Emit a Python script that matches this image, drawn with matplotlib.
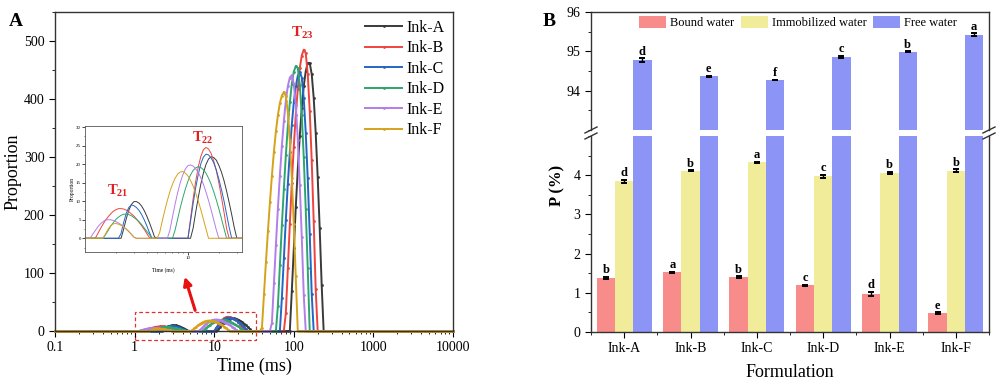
import numpy as np
import matplotlib
matplotlib.use('Agg')
import matplotlib.pyplot as plt
from matplotlib.lines import Line2D
from matplotlib.patches import Rectangle
from matplotlib.ticker import LogLocator, NullFormatter, MultipleLocator, FixedLocator, FixedFormatter

plt.rcParams['font.family'] = ['Liberation Serif', 'DejaVu Serif']
plt.rcParams['mathtext.fontset'] = 'custom'
plt.rcParams['mathtext.rm'] = 'Liberation Serif'
plt.rcParams['mathtext.bf'] = 'Liberation Serif:bold'

# ---------------- Panel A data ----------------
# relaxation-time grid (ms), 201 log-spaced points, 0.025 decade apart
grid_ms = np.logspace(-1, 4, 201)
ink_names = ['Ink-A', 'Ink-B', 'Ink-C', 'Ink-D', 'Ink-E', 'Ink-F']
ink_colors = ['#3a3a3a', '#ee4440', '#2366c4', '#2fa56e', '#b27ee8', '#d6a21c']

ink_a_t21_from, ink_a_t21 = 55, [2.4, 5.2, 7.5, 9.1, 9.9, 9.9, 9.5, 8.7, 7.5, 6.0, 4.3, 2.4, 0.4]
ink_a_t22_from, ink_a_t22 = 82, [2.7, 7.0, 11.0, 14.6, 17.6, 19.9, 21.4, 22.0, 21.8, 21.1, 19.7, 17.9, 15.6, 12.8, 9.7, 6.4, 2.9]
ink_a_t23_from, ink_a_t23 = 119, [69, 143, 214, 279, 336, 384, 422, 448, 462, 462, 443, 402, 342, 266, 178, 80]

ink_b_t21_from, ink_b_t21 = 45, [1.3, 2.6, 3.8, 4.9, 5.8, 6.6, 7.3, 7.7, 8.0, 8.0, 7.9, 7.6, 7.2, 6.6, 6.0, 5.2, 4.3, 3.4, 2.4, 1.3, 0.2]
ink_b_t22_from, ink_b_t22 = 81, [5.4, 10.6, 15.3, 19.2, 22.1, 23.9, 24.5, 24.1, 22.9, 20.9, 18.3, 15.0, 11.2, 7.1, 2.7]
ink_b_t23_from, ink_b_t23 = 116, [31, 109, 184, 255, 318, 373, 418, 453, 475, 485, 479, 443, 380, 294, 189, 72]

ink_c_t21_from, ink_c_t21 = 54, [1.3, 4.2, 6.7, 8.3, 9.0, 8.8, 8.3, 7.5, 6.4, 5.0, 3.4, 1.6]
ink_c_t22_from, ink_c_t22 = 81, [4.5, 9.3, 13.6, 17.2, 20.1, 21.9, 22.7, 22.5, 21.7, 20.4, 18.5, 16.0, 13.2, 10.1, 6.6, 3.0]
ink_c_t23_from, ink_c_t23 = 114, [57, 126, 192, 254, 308, 356, 394, 422, 440, 447, 437, 401, 342, 263, 168, 64]

ink_d_t21_from, ink_d_t21 = 48, [1.0, 2.1, 3.3, 4.2, 5.1, 5.7, 6.2, 6.5, 6.5, 6.4, 6.1, 5.6, 5.1, 4.5, 3.7, 2.8, 1.9, 1.0]
ink_d_t22_from, ink_d_t22 = 75, [2.2, 5.2, 8.2, 10.9, 13.3, 15.4, 17.1, 18.3, 19.0, 19.3, 19.1, 18.5, 17.6, 16.2, 14.6, 12.6, 10.4, 8.0, 5.4, 2.7]
ink_d_t23_from, ink_d_t23 = 112, [43, 114, 182, 245, 303, 353, 394, 426, 447, 457, 453, 425, 373, 300, 210, 108]

ink_e_t21_from, ink_e_t21 = 43, [1.1, 2.1, 3.1, 3.9, 4.5, 4.9, 5.0, 5.0, 4.8, 4.5, 4.1, 3.7, 3.1, 2.5, 1.8, 1.1, 0.3]
ink_e_t22_from, ink_e_t22 = 73, [2.2, 5.8, 9.2, 12.3, 15.0, 17.1, 18.7, 19.6, 19.8, 19.5, 18.8, 17.8, 16.3, 14.6, 12.5, 10.2, 7.7, 5.0, 2.3]
ink_e_t23_from, ink_e_t23 = 109, [14, 82, 148, 211, 268, 319, 362, 397, 422, 437, 441, 426, 389, 330, 252, 162, 62]

ink_f_t21_from, ink_f_t21 = 48, [1.2, 2.5, 3.4, 3.9, 4.0, 3.8, 3.5, 3.1, 2.5, 1.9, 1.1, 0.3]
ink_f_t22_from, ink_f_t22 = 69, [1.5, 4.6, 7.5, 10.2, 12.6, 14.6, 16.2, 17.3, 17.9, 18.0, 17.6, 16.8, 15.6, 14.1, 12.2, 10.1, 7.7, 5.1, 2.5]
ink_f_t23_from, ink_f_t23 = 104, [6, 63, 119, 172, 222, 268, 309, 344, 372, 393, 406, 412, 405, 377, 329, 263, 184, 94]

ink_segments = [
    [(ink_a_t21_from, ink_a_t21), (ink_a_t22_from, ink_a_t22), (ink_a_t23_from, ink_a_t23)],
    [(ink_b_t21_from, ink_b_t21), (ink_b_t22_from, ink_b_t22), (ink_b_t23_from, ink_b_t23)],
    [(ink_c_t21_from, ink_c_t21), (ink_c_t22_from, ink_c_t22), (ink_c_t23_from, ink_c_t23)],
    [(ink_d_t21_from, ink_d_t21), (ink_d_t22_from, ink_d_t22), (ink_d_t23_from, ink_d_t23)],
    [(ink_e_t21_from, ink_e_t21), (ink_e_t22_from, ink_e_t22), (ink_e_t23_from, ink_e_t23)],
    [(ink_f_t21_from, ink_f_t21), (ink_f_t22_from, ink_f_t22), (ink_f_t23_from, ink_f_t23)],
]

def build_curve(segments):
    y = np.zeros(len(grid_ms))
    for start, vals in segments:
        y[start:start + len(vals)] = vals
    return y

curves = [build_curve(s) for s in ink_segments]

# ---------------- Panel B data ----------------
formulations = ['Ink-A', 'Ink-B', 'Ink-C', 'Ink-D', 'Ink-E', 'Ink-F']
bound = [1.38, 1.52, 1.40, 1.19, 0.97, 0.48]
bound_err = [0.02, 0.01, 0.02, 0.02, 0.05, 0.02]
bound_sig = ['b', 'a', 'b', 'c', 'd', 'e']
immob = [3.85, 4.11, 4.33, 3.97, 4.05, 4.11]
immob_err = [0.04, 0.01, 0.01, 0.04, 0.03, 0.04]
immob_sig = ['d', 'b', 'a', 'c', 'b', 'b']
free = [94.78, 94.37, 94.27, 94.85, 94.99, 95.42]
free_err = [0.04, 0.01, 0.01, 0.03, 0.01, 0.04]
free_sig = ['d', 'e', 'f', 'c', 'b', 'a']
series_names = ['Bound water', 'Immobilized water', 'Free water']
series_colors = ['#f78c8a', '#f0ec9a', '#8c95f6']

W, H = 1000, 381
fig = plt.figure(figsize=(W / 100, H / 100), dpi=100)

def fx(px):
    return px / W

def fy(py):
    return 1 - py / H

# ================= Panel A =================
axA = fig.add_axes([fx(55), fy(331), fx(453 - 55), (331 - 12) / H])
for y, c, n in zip(curves, ink_colors, ink_names):
    axA.plot(grid_ms, y, color=c, lw=1.4, marker='o', ms=2.0, mew=0, label=n, clip_on=False)
axA.set_xscale('log')
axA.set_xlim(0.1, 10000)
axA.set_ylim(0, 550)
axA.set_xticks([0.1, 1, 10, 100, 1000, 10000])
axA.set_xticklabels(['0.1', '1', '10', '100', '1000', '10000'])
axA.xaxis.set_minor_locator(LogLocator(base=10, subs=np.arange(2, 10), numticks=20))
axA.xaxis.set_minor_formatter(NullFormatter())
axA.set_yticks([0, 100, 200, 300, 400, 500])
axA.yaxis.set_minor_locator(MultipleLocator(50))
axA.tick_params(which='both', direction='out', labelsize=10, top=False, right=False)
axA.tick_params(which='major', length=4)
axA.tick_params(which='minor', length=2)
for s in axA.spines.values():
    s.set_color('#333333'); s.set_linewidth(1.0)
axA.set_xlabel('Time (ms)', fontsize=13, labelpad=2)
axA.set_ylabel('Proportion', fontsize=13, labelpad=2)
leg = axA.legend(loc='upper right', frameon=False, fontsize=11.5, handlelength=2.3,
                 handletextpad=0.3, labelspacing=0.28, borderaxespad=0.2, borderpad=0.3)
axA.text(127, 514, r'$\mathbf{T_{23}}$', color='#e02020', fontsize=11, ha='center', va='center')
axA.add_patch(Rectangle((1, -15.5), 32.5, 48.3, fill=False, ls=(0, (3, 2)), lw=0.9,
                        edgecolor='#e03030', clip_on=False))
axA.annotate('', xy=(4.17, 98), xytext=(5.9, 31),
             arrowprops=dict(arrowstyle='-|>', color='#e81010', lw=2.2, mutation_scale=12))
fig.text(fx(9), fy(21), 'A', fontsize=14, fontweight='bold', va='center', ha='left')

# inset
axI = fig.add_axes([fx(85), fy(252), fx(242 - 85), (252 - 126) / H])
for y, c in zip(curves, ink_colors):
    axI.plot(grid_ms, y, color=c, lw=0.7)
axI.set_xscale('log')
axI.set_xlim(1, 33.5)
axI.set_ylim(-3.7, 30.3)
axI.xaxis.set_major_locator(FixedLocator([10]))
axI.xaxis.set_major_formatter(FixedFormatter(['10']))
axI.xaxis.set_minor_locator(LogLocator(base=10, subs=np.arange(2, 10), numticks=20))
axI.xaxis.set_minor_formatter(NullFormatter())
axI.set_yticks([0, 5, 10, 15, 20, 25, 30])
axI.yaxis.set_minor_locator(MultipleLocator(2.5))
axI.tick_params(which='both', direction='out', labelsize=3.5, top=False, right=False, pad=1)
axI.tick_params(which='major', length=2, width=0.5)
axI.tick_params(which='minor', length=1, width=0.4)
for s in axI.spines.values():
    s.set_color('#555555'); s.set_linewidth(0.6)
axI.set_xlabel('Time (ms)', fontsize=4, labelpad=5)
axI.set_ylabel('Proportion', fontsize=4, labelpad=1)
axI.text(2.09, 12.7, r'$\mathbf{T_{21}}$', color='#e02020', fontsize=10.5, ha='center', va='center')
axI.text(14, 27, r'$\mathbf{T_{22}}$', color='#e02020', fontsize=10.5, ha='center', va='center')

# ================= Panel B =================
left, right = 591, 989
axU = fig.add_axes([fx(left), fy(130), fx(right - left), (130 - 12) / H])
axL = fig.add_axes([fx(left), fy(332), fx(right - left), (332 - 136) / H])
x = np.arange(len(formulations))
bw = 0.275
offs = [-0.275, 0.0, 0.275]
vals = [bound, immob, free]
errs = [bound_err, immob_err, free_err]
sigs = [bound_sig, immob_sig, free_sig]
for ax in (axU, axL):
    for k in range(3):
        ax.bar(x + offs[k], vals[k], width=bw, color=series_colors[k], label=series_names[k], zorder=2)
        ax.errorbar(x + offs[k], vals[k], yerr=errs[k], fmt='none', ecolor='black',
                    elinewidth=1.0, capsize=2.5, capthick=1.4, zorder=3)
    ax.set_xlim(-0.5, 5.5)
    for s in ax.spines.values():
        s.set_color('#333333'); s.set_linewidth(1.0)

axU.set_ylim(93, 96)
axU.set_yticks([94, 95, 96])
axU.yaxis.set_minor_locator(MultipleLocator(0.5))
axU.spines['bottom'].set_visible(False)
axU.tick_params(axis='x', which='both', bottom=False, labelbottom=False)
axU.tick_params(axis='y', which='both', direction='out', labelsize=10, right=False)
axU.tick_params(axis='y', which='major', length=4)
axU.tick_params(axis='y', which='minor', length=2)

axL.set_ylim(0, 5)
axL.set_yticks([0, 1, 2, 3, 4])
axL.yaxis.set_minor_locator(MultipleLocator(0.5))
axL.spines['top'].set_visible(False)
axL.set_xticks(x)
axL.set_xticklabels(formulations)
axL.xaxis.set_minor_locator(FixedLocator(np.arange(-0.5, 6, 1.0)))
axL.tick_params(which='both', direction='out', labelsize=10, right=False, top=False)
axL.tick_params(which='major', length=4)
axL.tick_params(which='minor', length=2)
axL.set_xlabel('Formulation', fontsize=13, labelpad=6)
fig.text(fx(557), fy(185), 'P (%)', rotation=90, fontsize=12, fontweight='bold',
         ha='center', va='center')

# significance letters
for k in range(3):
    ax = axU if k == 2 else axL
    for i in range(len(formulations)):
        ax.annotate(sigs[k][i], (x[i] + offs[k], vals[k][i] + errs[k][i]),
                    xytext=(0, 0.5), textcoords='offset points', ha='center', va='bottom',
                    fontsize=9, fontweight='bold')

axU.legend(loc='upper center', bbox_to_anchor=(0.52, 1.02), ncol=3, frameon=False, fontsize=9,
           handlelength=2.2, handleheight=1.1, handletextpad=0.3, columnspacing=0.5,
           borderaxespad=0.1)

# axis break marks
for xs in (left, right):
    for yb in (130, 136):
        fig.add_artist(Line2D([fx(xs - 6), fx(xs + 6)], [fy(yb + 3), fy(yb - 3)],
                              color='#333333', lw=1.0))

fig.text(fx(549), fy(21), 'B', fontsize=14, fontweight='bold', va='center', ha='center')

fig.savefig('out.png', dpi=100)
